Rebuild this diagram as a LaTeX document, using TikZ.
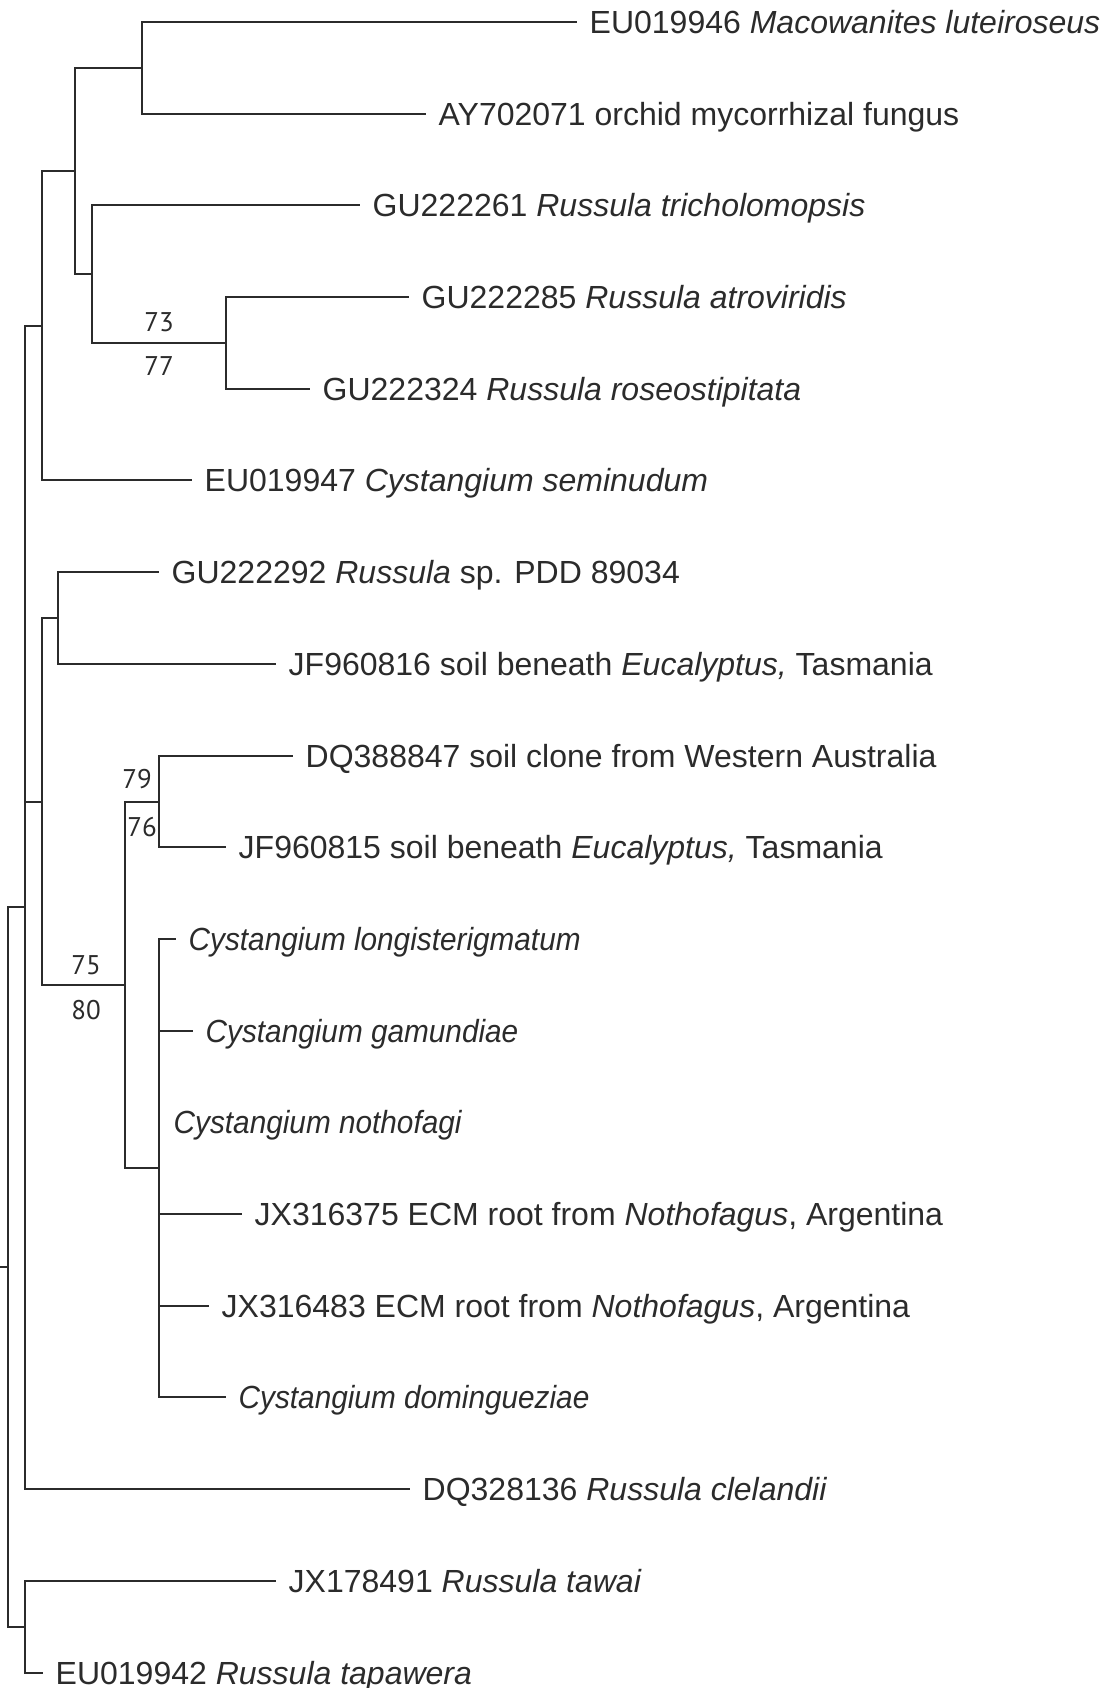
\documentclass[tikz,border=0pt]{standalone}
\usepackage{fontspec}
\setmainfont{Liberation Sans}
\newfontfamily\narrowfont{Liberation Sans}[FakeStretch=0.93]
\newfontfamily\bootfont{PT Sans}
\usepackage{tikz}
\usetikzlibrary{positioning}
\definecolor{ink}{HTML}{2B2B2B}

\begin{document}
\begin{tikzpicture}[
  x=1pt, y=-1pt,
  branch/.style={draw=ink, line width=2pt, line join=miter},
  leaf/.style={anchor=base west, inner sep=0pt, xshift=12.5pt, yshift=-11.5pt,
               text=ink, font=\fontsize{32}{38}\selectfont},
  taxon/.style={leaf, font=\narrowfont\fontsize{32}{38}\selectfont\itshape},
  boot/.style={inner sep=0pt, text=ink, font=\bootfont\fontsize{27}{30}\selectfont}
]
\useasboundingbox (0,0) rectangle (1101,1688);

% Internal nodes
\coordinate (root) at (0,1267);
\coordinate (nM) at (8,1267);
\coordinate (nK) at (25,907);
\coordinate (nL) at (25,1627);
\coordinate (nE) at (42,326);
\coordinate (nJ) at (42,802);
\coordinate (nD) at (75,171);
\coordinate (nA) at (142,68);
\coordinate (nB) at (92,274);
\coordinate (nC) at (226,343);
\coordinate (nF) at (58,618);
\coordinate (nI) at (125,985);
\coordinate (nG) at (159,802);
\coordinate (nH) at (159,1168);

% Leaf tips
\coordinate (t1) at (577,22);
\coordinate (t2) at (426,114);
\coordinate (t3) at (360,205);
\coordinate (t4) at (409,297);
\coordinate (t5) at (310,389);
\coordinate (t6) at (192,480);
\coordinate (t7) at (159,572);
\coordinate (t8) at (276,664);
\coordinate (t9) at (293,756);
\coordinate (t10) at (226,847);
\coordinate (t11) at (176,939);
\coordinate (t12) at (193,1031);
\coordinate (t13) at (161,1122);
\coordinate (t14) at (242,1214);
\coordinate (t15) at (209,1306);
\coordinate (t16) at (226,1397);
\coordinate (t17) at (410,1489);
\coordinate (t18) at (276,1581);
\coordinate (t19) at (43,1673);

% Labels
\node[leaf] (l1) at (t1) {EU019946 \textit{Macowanites luteiroseus}};
\node[leaf] (l2) at (t2) {AY702071 orchid mycorrhizal fungus};
\node[leaf] (l3) at (t3) {GU222261 \textit{Russula tricholomopsis}};
\node[leaf] (l4) at (t4) {GU222285 \textit{Russula atroviridis}};
\node[leaf] (l5) at (t5) {GU222324 \textit{Russula roseostipitata}};
\node[leaf] (l6) at (t6) {EU019947 \textit{Cystangium seminudum}};
\node[leaf] (l7) at (t7) {GU222292 \textit{Russula} sp. PDD 89034};
\node[leaf] (l8) at (t8) {JF960816 soil beneath \textit{Eucalyptus,} Tasmania};
\node[leaf] (l9) at (t9) {DQ388847 soil clone from Western Australia};
\node[leaf] (l10) at (t10) {JF960815 soil beneath \textit{Eucalyptus,} Tasmania};
\node[taxon] (l11) at (t11) {Cystangium longisterigmatum};
\node[taxon] (l12) at (t12) {Cystangium gamundiae};
\node[taxon] (l13) at (t13) {Cystangium nothofagi};
\node[leaf] (l14) at (t14) {JX316375 ECM root from \textit{Nothofagus}, Argentina};
\node[leaf] (l15) at (t15) {JX316483 ECM root from \textit{Nothofagus}, Argentina};
\node[taxon] (l16) at (t16) {Cystangium domingueziae};
\node[leaf] (l17) at (t17) {DQ328136 \textit{Russula clelandii}};
\node[leaf] (l18) at (t18) {JX178491 \textit{Russula tawai}};
\node[leaf] (l19) at (t19) {EU019942 \textit{Russula tapawera}};

% Backbone
\draw[branch] (root) -- (nM);
\draw[branch] (nM) |- (nK);
\draw[branch] (nM) |- (nL);
\draw[branch] (nK) |- (nE);
\draw[branch] (nK) |- (nJ);
\draw[branch] (nK) |- (t17);
\draw[branch] (nL) |- (t18);
\draw[branch] (nL) |- (t19);

% Upper clade
\draw[branch] (nE) |- (nD);
\draw[branch] (nE) |- (t6);
\draw[branch] (nD) |- (nA);
\draw[branch] (nD) |- (nB);
\draw[branch] (nA) |- (t1);
\draw[branch] (nA) |- (t2);
\draw[branch] (nB) |- (t3);
\draw[branch] (nB) |- (nC);
\draw[branch] (nC) |- (t4);
\draw[branch] (nC) |- (t5);

% Lower clade
\draw[branch] (nJ) |- (nF);
\draw[branch] (nJ) |- (nI);
\draw[branch] (nF) |- (t7);
\draw[branch] (nF) |- (t8);
\draw[branch] (nI) |- (nG);
\draw[branch] (nI) |- (nH);
\draw[branch] (nG) |- (t9);
\draw[branch] (nG) |- (t10);
\draw[branch] (nH) |- (t11);
\draw[branch] (nH) |- (t12);
\draw[branch] (nH) |- (t14);
\draw[branch] (nH) |- (t15);
\draw[branch] (nH) |- (t16);

% Bootstrap values
\node[boot] (bsC) at (159,322) {73};
\node[boot] (bsC2) at (159,366) {77};
\node[boot] (bsG) at (137,779) {79};
\node[boot] (bsG2) at (142,827) {76};
\node[boot] (bsI) at (86,965) {75};
\node[boot] (bsI2) at (86,1010) {80};

\end{tikzpicture}
\end{document}
